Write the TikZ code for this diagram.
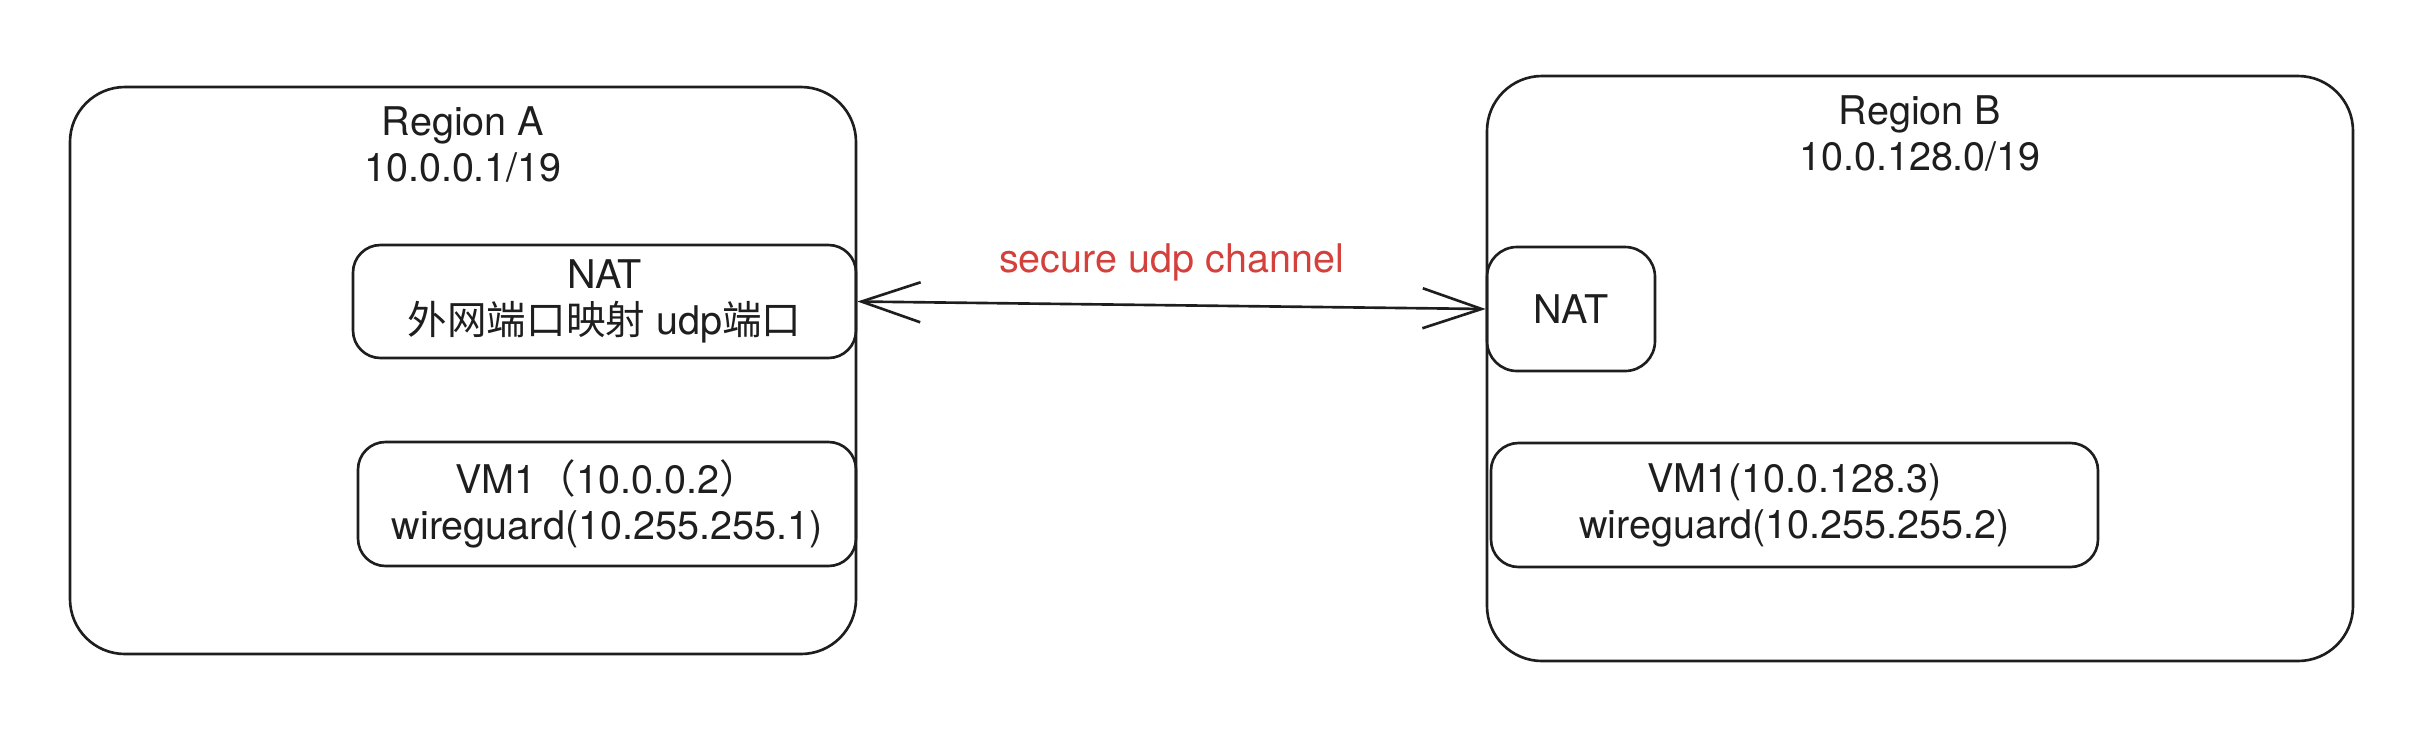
\documentclass[tikz,border=0pt]{standalone}
\usepackage{fontspec}
\setmainfont{TeX Gyre Heros}
\newfontfamily\cjk{Noto Sans CJK SC}
\usetikzlibrary{arrows.meta,positioning}
\definecolor{ink}{HTML}{1E1E1E}
\definecolor{chanred}{RGB}{212,64,60}

\begin{document}
\begin{tikzpicture}[line width=1.5pt, every node/.style={font=\fontsize{22.5}{26.2}\selectfont, text=ink}]

    \tikzstyle{region}=[draw=ink, rounded corners=1.1cm, inner sep=0]
    \tikzstyle{tbox}=[draw=ink, rounded corners=0.55cm, align=center, inner sep=0]
    \tikzstyle{title}=[align=center, inner sep=0]
    \tikzstyle{chan}=[draw=ink, {Straight Barb[length=1.18cm,width=0.8cm]}-{Straight Barb[length=1.18cm,width=0.8cm]}]

    \useasboundingbox (0,0) rectangle (48.6,-14.88);

    % region A
    \node[region, minimum width=15.72cm, minimum height=11.34cm] (regA) at (9.26,-7.41) {};
    \node[title, below=0.4cm of regA.north] (titleA) {Region A\\10.0.0.1/19};
    \node[tbox, minimum width=10.06cm, minimum height=2.26cm] (natA) at (12.09,-6.03) {NAT\\{\cjk 外网端口映射} udp{\cjk 端口}};
    \node[tbox, minimum width=9.96cm, minimum height=2.48cm] (vmA) at (12.14,-10.08) {VM1{\cjk （}10.0.0.2{\cjk ）}\\wireguard(10.255.255.1)};

    % region B
    \node[region, minimum width=17.32cm, minimum height=11.7cm] (regB) at (38.4,-7.37) {};
    \node[title, below=0.4cm of regB.north] (titleB) {Region B\\10.0.128.0/19};
    \node[tbox, rounded corners=0.6cm, minimum width=3.36cm, minimum height=2.48cm] (natB) at (31.42,-6.18) {NAT};
    \node[tbox, minimum width=12.14cm, minimum height=2.48cm] (vmB) at (35.89,-10.1) {VM1(10.0.128.3)\\wireguard(10.255.255.2)};

    \draw[chan] (natA.east) -- (natB.west)
        node[midway, above=0.46cm, inner sep=0, text=chanred] (lbl) {secure udp channel};

\end{tikzpicture}
\end{document}
